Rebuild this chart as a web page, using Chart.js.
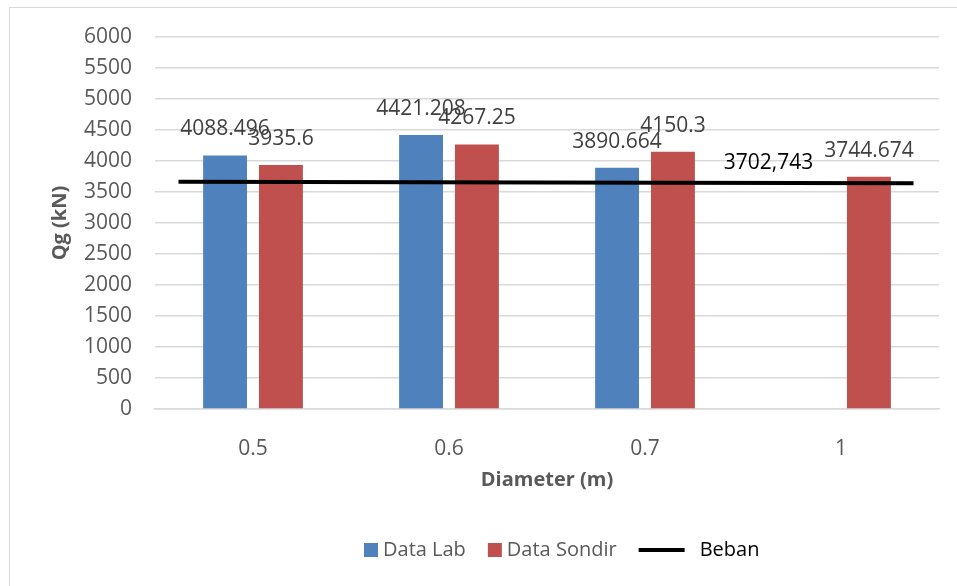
<!DOCTYPE html>
<html>
<head>
<meta charset="utf-8">
<script src="https://cdn.jsdelivr.net/npm/chart.js@4/dist/chart.umd.min.js"></script>
<style>
  body { margin: 0; background: #fff; }
  #wrap { position: relative; width: 957px; height: 586px; overflow: hidden; }
  #frame { position: absolute; left: 9px; top: 7px; width: 1000px; height: 640px; border: 1px solid #d9d9d9; }
  #qgChart { position: absolute; left: 0; top: 0; }
</style>
</head>
<body>
<div id="wrap">
  <div id="frame"></div>
  <canvas id="qgChart" width="957" height="586"></canvas>
</div>
<script>
// data
var diameters = ["0.5", "0.6", "0.7", "1"];
var dataLab = [4088.496, 4421.208, 3890.664, null];
var dataSondir = [3935.6, 4267.25, 4150.3, 3744.674];
// Beban line (x in category units, 0..4 across the plot)
var bebanX = [0.12, 3.87];
var bebanY = [3665, 3642];
var bebanText = "3702,743";
var bebanTextAt = 3.13;
var yTicks = [0, 500, 1000, 1500, 2000, 2500, 3000, 3500, 4000, 4500, 5000, 5500, 6000];

var FONT = "'Open Sans', 'Liberation Sans', sans-serif";
var blue = "#4F81BD", red = "#C0504D";

var ctx = document.getElementById("qgChart").getContext("2d");

// value labels above the bars + the beban text
var valueLabels = {
  id: "valueLabels",
  afterDatasetsDraw: function(chart) {
    var c = chart.ctx;
    c.save();
    c.font = "21px " + FONT;
    c.textAlign = "center";
    c.textBaseline = "middle";
    chart.data.datasets.forEach(function(ds, i) {
      if (ds.type === "line") return;
      var meta = chart.getDatasetMeta(i);
      meta.data.forEach(function(el, j) {
        if (ds.data[j] == null) return;
        c.fillStyle = "#404040";
        c.fillText(ds.data[j].toString(), el.x, el.y - 26);
      });
    });
    var x2 = chart.scales.x2, y = chart.scales.y;
    var t = (bebanTextAt - bebanX[0]) / (bebanX[1] - bebanX[0]);
    var yv = bebanY[0] + t * (bebanY[1] - bebanY[0]);
    c.fillStyle = "#000";
    c.fillText(bebanText, x2.getPixelForValue(bebanTextAt), y.getPixelForValue(yv) - 20);
    c.restore();
  }
};

// legend drawn by hand so the line entry can be wider than the squares
var bottomLegend = {
  id: "bottomLegend",
  afterDraw: function(chart) {
    var c = chart.ctx;
    var cy = 550;
    var x = 364;
    c.save();
    c.font = "20px " + FONT;
    c.textBaseline = "middle";
    c.textAlign = "left";
    var items = [
      { text: "Data Lab", color: blue, kind: "box", textColor: "#595959" },
      { text: "Data Sondir", color: red, kind: "box", textColor: "#595959" },
      { text: "Beban", color: "#000", kind: "line", textColor: "#000" }
    ];
    items.forEach(function(it) {
      if (it.kind === "box") {
        c.fillStyle = it.color;
        c.fillRect(x, cy - 7, 14, 14);
        x += 19;
      } else {
        c.strokeStyle = it.color;
        c.lineWidth = 4;
        c.beginPath();
        c.moveTo(x, cy);
        c.lineTo(x + 46, cy);
        c.stroke();
        x += 61;
      }
      c.fillStyle = it.textColor;
      c.fillText(it.text, x, cy);
      x += c.measureText(it.text).width + 22;
    });
    c.restore();
  }
};

var qgChart = new Chart(ctx, {
  type: "bar",
  data: {
    labels: diameters,
    datasets: [
      {
        type: "line",
        label: "Beban",
        xAxisID: "x2",
        data: bebanX.map(function(v, i) { return { x: v, y: bebanY[i] }; }),
        borderColor: "#000",
        borderWidth: 4,
        pointRadius: 0,
        fill: false,
        order: 0
      },
      { label: "Data Lab", data: dataLab, backgroundColor: blue, order: 1, categoryPercentage: 1.14, barPercentage: 0.786 },
      { label: "Data Sondir", data: dataSondir, backgroundColor: red, order: 1, categoryPercentage: 1.14, barPercentage: 0.786 }
    ]
  },
  options: {
    responsive: false,
    animation: false,
    devicePixelRatio: 1,
    layout: { padding: { left: 48, right: 18, top: 37, bottom: 94 } },
    plugins: {
      legend: { display: false },
      tooltip: { enabled: false }
    },
    scales: {
      x: {
        grid: { display: false },
        border: { display: true, color: "#d9d9d9", width: 1.5 },
        ticks: { color: "#595959", font: { family: FONT, size: 21 }, padding: 19 },
        title: {
          display: true, text: "Diameter (m)", color: "#595959",
          font: { family: FONT, size: 20, weight: "bold" }, padding: 0
        },
        afterFit: function(s) { s.height = 83; }
      },
      x2: { type: "linear", min: 0, max: 4, offset: false, display: false },
      y: {
        min: 0,
        max: 6000,
        afterBuildTicks: function(s) { s.ticks = yTicks.map(function(v) { return { value: v }; }); },
        grid: { color: "#d9d9d9", lineWidth: 1.5, drawTicks: false },
        border: { display: false },
        ticks: {
          color: "#595959", font: { family: FONT, size: 21 }, padding: 23,
          callback: function(v) { return String(v); }
        },
        title: {
          display: true, text: "Qg (kN)", color: "#595959",
          font: { family: FONT, size: 20, weight: "bold" }, padding: 0
        },
        afterFit: function(s) { s.width = 107; }
      }
    }
  },
  plugins: [valueLabels, bottomLegend]
});
</script>
</body>
</html>
